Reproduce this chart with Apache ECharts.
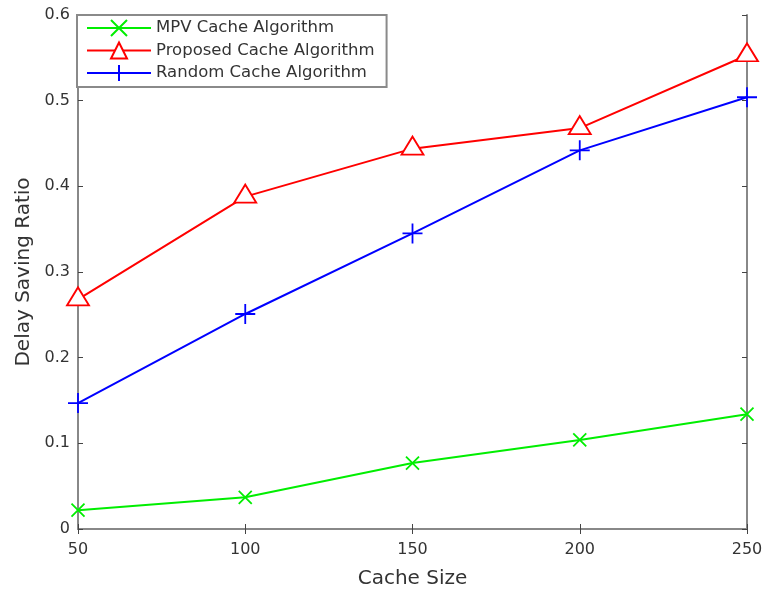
<!DOCTYPE html>
<html>
<head>
<meta charset="utf-8">
<script src="https://cdn.jsdelivr.net/npm/echarts@6/dist/echarts.min.js"></script>
</head>
<body style="margin:0">
<div id="container" style="width:767px;height:589px"></div>
<script>
var cacheSize = [50, 100, 150, 200, 250];
var mpv = [0.022, 0.037, 0.077, 0.104, 0.134];
var proposed = [0.268, 0.388, 0.444, 0.468, 0.553];
var random = [0.147, 0.251, 0.345, 0.442, 0.504];

var xSym = 'path://M0,0L10,10M10,0L0,10';
var plusSym = 'path://M5,0L5,10M0,5L10,5';
var font = 'DejaVu Sans, sans-serif';
var axisGray = '#888888';
var tickColor = '#444444';

function pairs(v) {
    return cacheSize.map(function (x, i) { return [x, v[i]]; });
}

var chart = echarts.init(document.getElementById('container'), null, {renderer: 'canvas'});

var option = {
    animation: false,
    grid: {left: 78, right: 20, top: 15, bottom: 60, outerBoundsMode: 'none'},
    legend: {
        orient: 'vertical',
        left: 77,
        top: 15,
        padding: [4, 12, 5, 9],
        itemWidth: 64,
        itemHeight: 20,
        itemGap: 4.5,
        backgroundColor: '#fff',
        borderColor: '#8a8a8a',
        borderWidth: 2,
        textStyle: {fontFamily: font, fontSize: 16.5, color: '#333'},
        data: ['MPV Cache Algorithm', 'Proposed Cache Algorithm', 'Random Cache Algorithm']
    },
    xAxis: [{
        type: 'value', min: 50, max: 250, interval: 50,
        name: 'Cache Size', nameLocation: 'middle', nameGap: 40,
        nameTextStyle: {fontFamily: font, fontSize: 20, color: '#333'},
        axisLine: {lineStyle: {color: axisGray, width: 2}},
        axisTick: {inside: true, length: 5, lineStyle: {color: tickColor}},
        axisLabel: {fontFamily: font, fontSize: 16, color: '#333', margin: 13},
        splitLine: {show: false}
    }, {
        type: 'value', position: 'top', min: 50, max: 250, interval: 50,
        axisLine: {show: true, lineStyle: {color: axisGray, width: 2}},
        axisTick: {show: true, inside: true, length: 5, lineStyle: {color: tickColor}},
        axisLabel: {show: false},
        splitLine: {show: false}
    }],
    yAxis: [{
        type: 'value', min: 0, max: 0.6, interval: 0.1,
        name: 'Delay Saving Ratio', nameLocation: 'middle', nameGap: 43,
        nameTextStyle: {fontFamily: font, fontSize: 20, color: '#333'},
        axisLine: {show: true, lineStyle: {color: axisGray, width: 2}},
        axisTick: {show: true, inside: true, length: 5, lineStyle: {color: tickColor}},
        axisLabel: {fontFamily: font, fontSize: 16, color: '#333', margin: 8},
        splitLine: {show: false}
    }, {
        type: 'value', position: 'right', min: 0, max: 0.6, interval: 0.1,
        axisLine: {show: true, lineStyle: {color: axisGray, width: 2}},
        axisTick: {show: true, inside: true, length: 5, lineStyle: {color: tickColor}},
        axisLabel: {show: false},
        splitLine: {show: false}
    }],
    series: [{
        name: 'MPV Cache Algorithm', type: 'line', data: pairs(mpv),
        symbol: xSym, symbolSize: 13, showAllSymbol: true,
        lineStyle: {color: '#00ee00', width: 2},
        itemStyle: {color: 'rgba(0,0,0,0)', borderColor: '#00ee00', borderWidth: 1.8}
    }, {
        name: 'Proposed Cache Algorithm', type: 'line', data: pairs(proposed),
        symbol: 'triangle', symbolSize: [22, 18], symbolOffset: [0, -3], showAllSymbol: true,
        lineStyle: {color: '#ff0000', width: 2},
        itemStyle: {color: '#fff', borderColor: '#ff0000', borderWidth: 1.8}
    }, {
        name: 'Random Cache Algorithm', type: 'line', data: pairs(random),
        symbol: plusSym, symbolSize: 20, showAllSymbol: true,
        lineStyle: {color: '#0000ff', width: 2},
        itemStyle: {color: 'rgba(0,0,0,0)', borderColor: '#0000ff', borderWidth: 1.8}
    }]
};

chart.setOption(option);
window.addEventListener('resize', chart.resize);
</script>
</body>
</html>
